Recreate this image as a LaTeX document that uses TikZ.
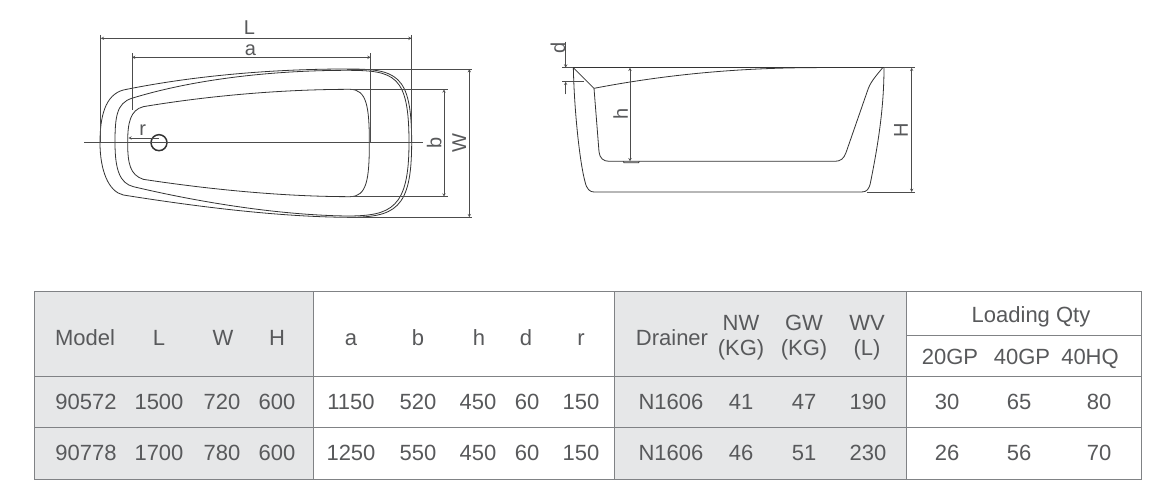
\documentclass[tikz,border=0pt]{standalone}
\usepackage{fontspec}
\setmainfont{Liberation Sans}
\definecolor{inkgrey}{HTML}{58595B}
\definecolor{rulegrey}{HTML}{808285}
\definecolor{cellgrey}{HTML}{E6E7E8}
\tikzset{
  tubline/.style={line width=0.8pt,draw=black!80},
  dimline/.style={line width=0.5pt,draw=black!70},
  dimarrow/.style={dimline,<->,>=stealth},
  dimlabel/.style={text=inkgrey,inner sep=0pt,font=\fontsize{20}{22}\selectfont},
  celltext/.style={text=inkgrey,inner sep=0pt,text height=16pt,text depth=0pt,font=\fontsize{22}{25}\selectfont},
  tablerule/.style={line width=1pt,draw=rulegrey}
}
\begin{document}
\begin{tikzpicture}[x=1pt,y=-1pt]
  \useasboundingbox (0,0) rectangle (1172,497);
  \fill[white] (0,0) rectangle (1172,497);
  % top view
  \begin{scope}[shift={(70,10)},scale=1/3]
    \draw[tubline] (90,398) .. controls (90,320) and (105,255) .. (160,240)
       .. controls (380,195) and (620,177) .. (830,177)
       .. controls (980,177) and (1025,190) .. (1025,398)
       .. controls (1025,600) and (975,622) .. (830,622)
       .. controls (620,620) and (380,590) .. (160,555)
       .. controls (115,545) and (90,480) .. (90,398) -- cycle;
    \draw[tubline] (135,398) .. controls (135,320) and (140,280) .. (185,265)
       .. controls (380,205) and (620,181) .. (830,181)
       .. controls (975,181) and (1017,195) .. (1017,398)
       .. controls (1017,595) and (965,618) .. (830,618)
       .. controls (620,615) and (380,575) .. (190,530)
       .. controls (150,520) and (135,480) .. (135,398) -- cycle;
    \draw[tubline] (173,398) .. controls (173,340) and (180,300) .. (220,290)
       .. controls (430,255) and (650,238) .. (840,238)
       .. controls (890,238) and (898,290) .. (898,398)
       .. controls (898,510) and (890,560) .. (840,560)
       .. controls (650,560) and (430,540) .. (220,508)
       .. controls (180,495) and (173,460) .. (173,398) -- cycle;
    \node[draw=black!80,line width=1.5pt,circle,minimum size=16pt,inner sep=0pt] (plug) at (267,398) {};
    % dimensions
    \coordinate (centreL) at (42,398);
    \coordinate (centreR) at (1058,398);
    \draw[dimline] (centreL) -- (centreR);
    \draw[dimline] (92,75) -- (92,398);
    \draw[dimline] (1025,75) -- (1025,398);
    \draw[dimarrow] (92,85) -- (1025,85);
    \draw[dimline] (186,130) -- (186,300);
    \draw[dimline] (902,130) -- (902,398);
    \draw[dimarrow] (186,142) -- (902,142);
    \draw[dimline] (830,177) -- (1207,177);
    \draw[dimline] (830,622) -- (1207,622);
    \draw[dimarrow] (1198,177) -- (1198,622);
    \draw[dimline] (840,238) -- (1133,238);
    \draw[dimline] (840,560) -- (1133,560);
    \draw[dimarrow] (1122,238) -- (1122,560);
    \draw[dimline,<-,>=stealth] (175,384) -- (267,384);
    \node[dimlabel] (labL) at (538,52) {L};
    \node[dimlabel] (laba) at (541,120) {a};
    \node[dimlabel] (labr) at (218,360) {r};
    \node[dimlabel,rotate=90] (labb) at (1093,398) {b};
    \node[dimlabel,rotate=90] (labW) at (1168,398) {W};
  \end{scope}
  % side view
  \begin{scope}[shift={(530,30)},scale=1/3]
    \draw[tubline] (130,113) -- (1062,113);
    \draw[tubline] (130,113) .. controls (133,250) and (150,400) .. (165,455)
       .. controls (170,478) and (180,486) .. (192,486) -- (995,486)
       .. controls (1010,486) and (1018,478) .. (1022,455)
       .. controls (1045,340) and (1062,230) .. (1062,113);
    \draw[tubline] (130,113) -- (192,175) -- (207,365)
       .. controls (209,385) and (220,394) .. (238,394) -- (915,394)
       .. controls (932,394) and (942,385) .. (948,368)
       -- (1015,175) .. controls (1025,150) and (1045,130) .. (1058,113);
    \draw[tubline] (192,175) .. controls (400,135) and (620,113) .. (860,113);
    \draw[tubline] (280,394) -- (282,398) -- (326,398) -- (328,394);
    % dimensions
    \draw[dimarrow] (300,113) -- (300,394);
    \draw[dimarrow] (1145,113) -- (1145,486);
    \draw[dimline] (1062,113) -- (1155,113);
    \draw[dimline] (1010,486) -- (1155,486);
    \draw[dimline,->,>=stealth] (107,35) -- (107,113);
    \draw[dimline,->,>=stealth] (107,193) -- (107,155);
    \draw[dimline] (97,113) -- (130,113);
    \draw[dimline] (97,155) -- (162,155);
    \node[dimlabel,rotate=90] (labd) at (84,55) {d};
    \node[dimlabel,rotate=90] (labh) at (272,252) {h};
    \node[dimlabel,rotate=90] (labH) at (1113,300) {H};
  \end{scope}
  % table
  \fill[cellgrey] (34,291) rectangle (313,479);
  \fill[cellgrey] (614,291) rectangle (906,479);
  \draw[tablerule] (34,291) rectangle (1141,479);
  \draw[tablerule] (34,376) -- (1141,376);
  \draw[tablerule] (34,427) -- (1141,427);
  \draw[tablerule] (906,335) -- (1141,335);
  \foreach \x in {313,614,906}
    \draw[tablerule] (\x,291) -- (\x,479);
  \foreach \x/\txt [count=\i] in {85/Model,159/L,223/W,277/H,351/a,418/b,479/h,526/d,581/r,672/Drainer}
    \node[celltext] (headA\i) at (\x,337) {\txt};
  \foreach \x/\txt [count=\i] in {741/NW,804/GW,867/WV}
    \node[celltext] (headB\i) at (\x,322) {\txt};
  \foreach \x/\txt [count=\i] in {741/(KG),804/(KG),867/(L)}
    \node[celltext] (headC\i) at (\x,347) {\txt};
  \node[celltext] (loading) at (1031,314) {Loading Qty};
  \foreach \x/\txt [count=\i] in {950/20GP,1022/40GP,1090/40HQ}
    \node[celltext] (headD\i) at (\x,356) {\txt};
  \foreach \x/\txt [count=\i] in {86/90572,159/1500,222/720,277/600,351/1150,418/520,478/450,527/60,581/150,671/N1606,741/41,804/47,868/190,947/30,1019/65,1099/80}
    \node[celltext] (rowA\i) at (\x,401) {\txt};
  \foreach \x/\txt [count=\i] in {86/90778,159/1700,222/780,277/600,351/1250,418/550,478/450,527/60,581/150,671/N1606,741/46,804/51,868/230,947/26,1019/56,1099/70}
    \node[celltext] (rowB\i) at (\x,452) {\txt};
\end{tikzpicture}
\end{document}
